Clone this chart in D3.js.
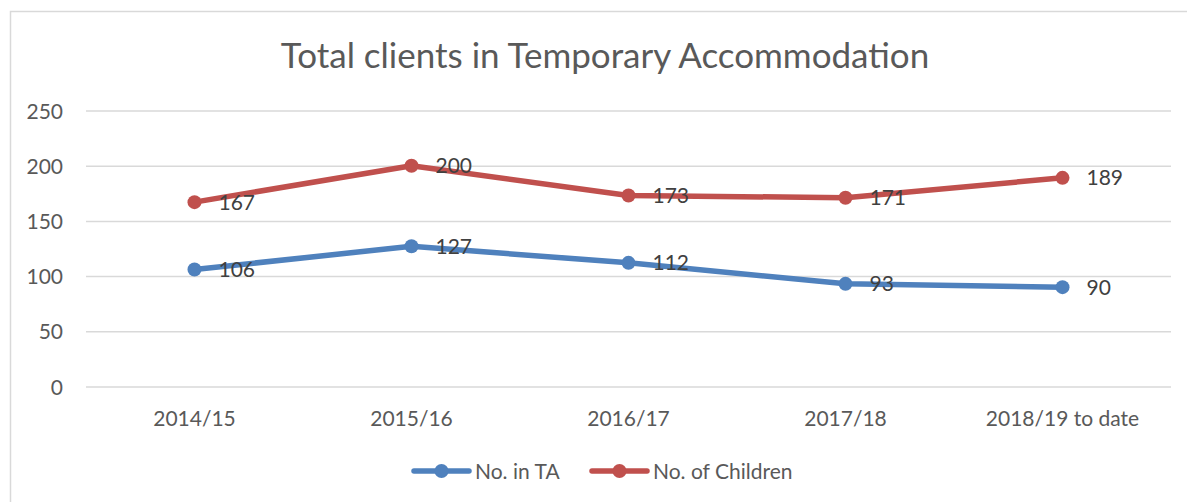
<!DOCTYPE html>
<html>
<head>
<meta charset="utf-8">
<script src="https://cdn.jsdelivr.net/npm/d3@7"></script>
<style>
  html, body { margin: 0; padding: 0; background: #fff; }
  svg { display: block; }
  text { font-family: Lato, "Open Sans", sans-serif; }
</style>
</head>
<body>
<svg id="chart" width="1187" height="502"></svg>
<script>
const title = "Total clients in Temporary Accommodation";
const categories = ["2014/15", "2015/16", "2016/17", "2017/18", "2018/19 to date"];
const seriesNames = ["No. in TA", "No. of Children"];
const noInTA = [106, 127, 112, 93, 90];
const noOfChildren = [167, 200, 173, 171, 189];
const yTicks = [0, 50, 100, 150, 200, 250];
const colors = ["#4F81BD", "#C0504D"];

const series = [
  { name: seriesNames[0], values: noInTA, color: colors[0] },
  { name: seriesNames[1], values: noOfChildren, color: colors[1] }
];

const svg = d3.select("#chart");

// chart frame
svg.append("rect")
  .attr("x", 10.5).attr("y", 11.5)
  .attr("width", 1300).attr("height", 600)
  .attr("fill", "#fff").attr("stroke", "#d9d9d9").attr("stroke-width", 1.5);

const x = d3.scaleBand().domain(categories).range([86, 1171]);
const y = d3.scaleLinear().domain([0, 250]).range([386.5, 110.5]);

// title
svg.append("text")
  .attr("x", 605).attr("y", 68)
  .attr("text-anchor", "middle")
  .attr("fill", "#595959")
  .attr("font-size", 35)
  .text(title);

// y axis with gridlines
const yAxis = svg.append("g")
  .attr("transform", "translate(86,0)")
  .call(d3.axisLeft(y).tickValues(yTicks).tickSize(-(1171 - 86)).tickPadding(23).tickFormat(d3.format("d")));
yAxis.select(".domain").remove();
yAxis.selectAll(".tick line").attr("stroke", "#d9d9d9").attr("stroke-width", 1.5);
yAxis.selectAll(".tick text")
  .attr("fill", "#595959").attr("font-size", 21)
  .attr("font-family", "Lato, 'Open Sans', sans-serif")
  .attr("dy", "0.36em");

// x axis labels
const xAxis = svg.append("g")
  .attr("transform", `translate(0,${y(0)})`)
  .call(d3.axisBottom(x).tickSize(0).tickPadding(0));
xAxis.select(".domain").remove();
xAxis.selectAll(".tick text")
  .attr("fill", "#595959").attr("font-size", 21)
  .attr("font-family", "Lato, 'Open Sans', sans-serif")
  .attr("y", 39.5).attr("dy", 0);

const cx = c => x(c) + x.bandwidth() / 2;

const line = d3.line()
  .x((d, i) => cx(categories[i]))
  .y(d => y(d));

series.forEach(s => {
  const g = svg.append("g");
  g.append("path")
    .datum(s.values)
    .attr("d", line)
    .attr("fill", "none")
    .attr("stroke", s.color)
    .attr("stroke-width", 5.5)
    .attr("stroke-linejoin", "round")
    .attr("stroke-linecap", "round");
  g.selectAll("circle")
    .data(s.values)
    .join("circle")
    .attr("cx", (d, i) => cx(categories[i]))
    .attr("cy", d => y(d))
    .attr("r", 7)
    .attr("fill", s.color);
});

// data labels
series.forEach(s => {
  svg.append("g").selectAll("text")
    .data(s.values)
    .join("text")
    .attr("x", (d, i) => cx(categories[i]) + 24)
    .attr("y", d => y(d))
    .attr("dy", "0.36em")
    .attr("fill", "#404040")
    .attr("font-size", 21)
    .text(d => d);
});

// legend
const legendX = [414, 592];
series.forEach((s, i) => {
  const g = svg.append("g").attr("transform", `translate(${legendX[i]},471)`);
  g.append("line")
    .attr("x1", 0).attr("x2", 55).attr("y1", 0).attr("y2", 0)
    .attr("stroke", s.color).attr("stroke-width", 5.5).attr("stroke-linecap", "round");
  g.append("circle").attr("cx", 27.5).attr("cy", 0).attr("r", 7).attr("fill", s.color);
  g.append("text")
    .attr("x", 61).attr("y", 0).attr("dy", "0.36em")
    .attr("fill", "#595959").attr("font-size", 21)
    .text(s.name);
});
</script>
</body>
</html>
